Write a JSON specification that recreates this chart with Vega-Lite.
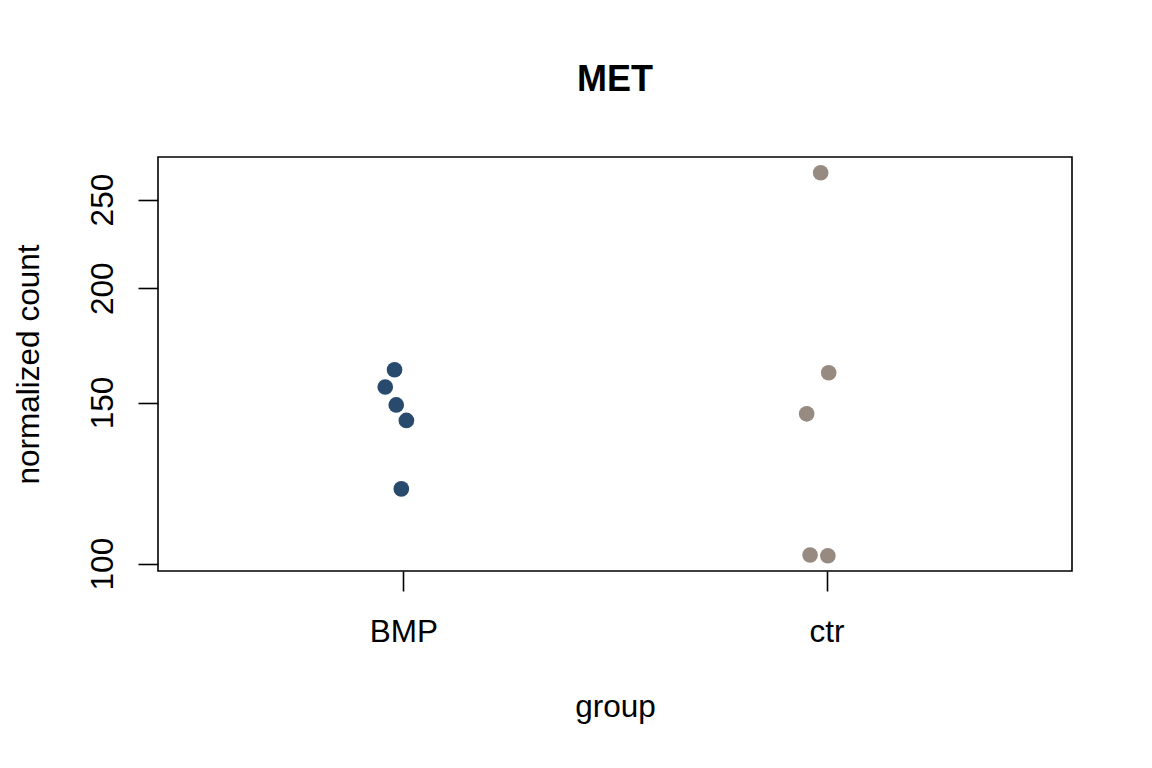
{
  "$schema": "https://vega.github.io/schema/vega-lite/v6.json",
  "width": 914,
  "height": 414,
  "autosize": {"type": "none"},
  "padding": {"left": 158, "top": 157, "right": 80, "bottom": 197},
  "background": "white",
  "title": {
    "text": "MET",
    "font": "Liberation Sans",
    "fontSize": 36,
    "fontWeight": "bold",
    "color": "black",
    "anchor": "middle",
    "baseline": "alphabetic",
    "offset": 30
  },
  "config": {
    "view": {"stroke": "black", "strokeWidth": 1.6},
    "font": "Liberation Sans"
  },
  "data": {
    "values": [
      {"group": "BMP", "pos": 0.979, "count": 162.9},
      {"group": "BMP", "pos": 0.957, "count": 156.0},
      {"group": "BMP", "pos": 0.983, "count": 149.1},
      {"group": "BMP", "pos": 1.007, "count": 143.4},
      {"group": "BMP", "pos": 0.995, "count": 120.7},
      {"group": "ctr", "pos": 1.986, "count": 267.5},
      {"group": "ctr", "pos": 2.005, "count": 161.7},
      {"group": "ctr", "pos": 1.953, "count": 145.8},
      {"group": "ctr", "pos": 1.961, "count": 102.2},
      {"group": "ctr", "pos": 2.003, "count": 102.0}
    ]
  },
  "mark": {"type": "circle", "size": 245, "opacity": 1},
  "encoding": {
    "x": {
      "field": "pos",
      "type": "quantitative",
      "scale": {"domain": [0.42, 2.58], "nice": false, "zero": false},
      "axis": {
        "title": "group",
        "values": [1, 2],
        "labelExpr": "datum.value == 1 ? 'BMP' : 'ctr'",
        "grid": false,
        "domain": false,
        "tickSize": 20,
        "tickWidth": 1.6,
        "tickColor": "black",
        "labelFontSize": 31.5,
        "labelColor": "black",
        "labelBaseline": "alphabetic",
        "labelAlign": "center",
        "labelPadding": 50,
        "labelFlush": false,
        "titleFontSize": 31.5,
        "titleFontWeight": "normal",
        "titleColor": "black",
        "titleBaseline": "alphabetic",
        "titleAlign": "center",
        "titleX": 457,
        "titleY": 145
      }
    },
    "y": {
      "field": "count",
      "type": "quantitative",
      "scale": {"type": "log", "domain": [98.16, 278.3], "nice": false, "zero": false},
      "axis": {
        "title": "normalized count",
        "values": [100, 150, 200, 250],
        "grid": false,
        "domain": false,
        "tickSize": 20,
        "tickWidth": 1.6,
        "tickColor": "black",
        "labelFontSize": 31.5,
        "labelColor": "black",
        "labelAngle": -90,
        "labelAlign": "center",
        "labelBaseline": "alphabetic",
        "labelPadding": 26,
        "labelFlush": false,
        "labelOverlap": false,
        "titleFontSize": 31.5,
        "titleFontWeight": "normal",
        "titleColor": "black",
        "titleAngle": -90,
        "titleBaseline": "alphabetic",
        "titleAlign": "center",
        "titleX": -120,
        "titleY": 207
      }
    },
    "color": {
      "field": "group",
      "type": "nominal",
      "scale": {"domain": ["BMP", "ctr"], "range": ["#274a6d", "#978a80"]},
      "legend": null
    }
  }
}
